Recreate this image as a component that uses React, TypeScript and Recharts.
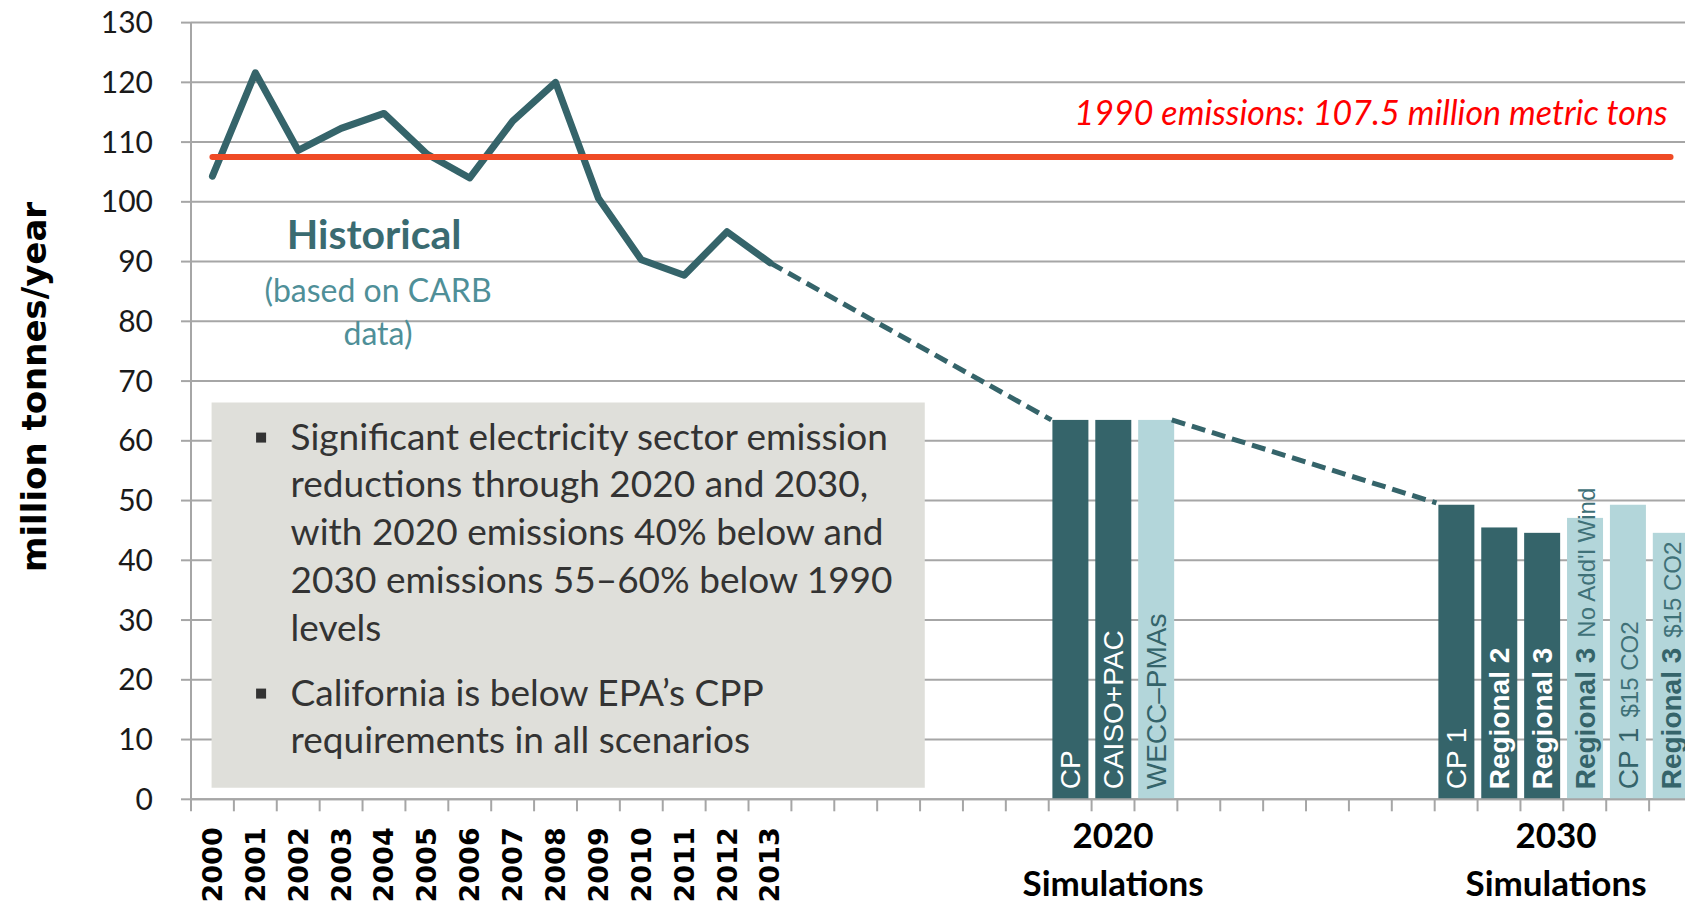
import React from "react";
import {
  ComposedChart,
  Bar,
  Line,
  XAxis,
  YAxis,
  CartesianGrid,
  ReferenceArea,
  ReferenceDot,
} from "recharts";

// historical emissions (CARB), million tonnes/year
const years = ["2000", "2001", "2002", "2003", "2004", "2005", "2006", "2007", "2008", "2009", "2010", "2011", "2012", "2013"];
const historical = [104.3, 121.6, 108.6, 112.3, 114.8, 108, 104, 113.5, 120, 100.6, 90.3, 87.7, 95, 89.8];

// simulated scenarios
const sim2020Names = ["CP", "CAISO+PAC", "WECC–PMAs"];
const sim2020Notes = ["", "", ""];
const sim2020Values = [63.5, 63.5, 63.5];
const sim2020Shades = ["dark", "dark", "light"];

const sim2030Names = ["CP 1", "Regional 2", "Regional 3", "Regional 3", "CP 1", "Regional 3"];
const sim2030Notes = ["", "", "", "No Add'l Wind", "$15 CO2", "$15 CO2"];
const sim2030Values = [49.3, 45.5, 44.6, 47.1, 49.3, 44.6];
const sim2030Shades = ["dark", "dark", "dark", "light", "light", "light"];

// slot layout of the category axis: 14 years, gap, 2020 group, gap, 2030 group
const slotCount = 35;
const sim2020Start = 20;
const sim2030Start = 29;

// group captions under the axis (x in slot units)
const groupLabels = [
  { x: 21.5, year: "2020" },
  { x: 31.83, year: "2030" },
];

// dashed trend (x in slot units)
const trendTo2020 = [
  { x: 13.5, v: 89.8 },
  { x: 20.06, v: 63.5 },
];
const trendTo2030 = [
  { x: 22.87, v: 63.5 },
  { x: 29.04, v: 49.6 },
];

const level1990 = 107.5;
const level1990Line = [
  { x: 0.5, v: level1990 },
  { x: 34.5, v: level1990 },
];

const yTicks = [0, 10, 20, 30, 40, 50, 60, 70, 80, 90, 100, 110, 120, 130];

const bulletPoints = [
  [
    "Significant electricity sector emission",
    "reductions through 2020 and 2030,",
    "with 2020 emissions 40% below and",
    "2030 emissions 55–60% below 1990",
    "levels",
  ],
  ["California is below EPA’s CPP", "requirements in all scenarios"],
];

const rows = Array.from({ length: slotCount }, (_, i) => {
  const row: any = { slot: i, hist: i < historical.length ? historical[i] : null, sim: null };
  const a = i - sim2020Start;
  const b = i - sim2030Start;
  if (a >= 0 && a < sim2020Values.length) {
    row.sim = sim2020Values[a];
    row.name = sim2020Names[a];
    row.note = sim2020Notes[a];
    row.shade = sim2020Shades[a];
  }
  if (b >= 0 && b < sim2030Values.length) {
    row.sim = sim2030Values[b];
    row.name = sim2030Names[b];
    row.note = sim2030Notes[b];
    row.shade = sim2030Shades[b];
  }
  return row;
});

const xTicks = Array.from(
  new Set([
    ...Array.from({ length: slotCount + 1 }, (_, i) => i),
    ...years.map((_, i) => i + 0.5),
    ...groupLabels.map((g) => g.x),
  ])
).sort((p, q) => p - q);

const DARK = "#35646a";
const LIGHT = "#b3d6da";
const GRID = "#a6a6a6";
const CALIBRI = "Lato, 'Open Sans', sans-serif";
const VERDANA = "'DejaVu Sans', Verdana, sans-serif";
const ARIAL = "'Liberation Sans', Arial, sans-serif";

function XTick(props: any) {
  const { x, y, payload } = props;
  const v = payload.value;
  const yearIdx = v - 0.5;
  const group = groupLabels.find((g) => g.x === v);
  return (
    <g>
      {Number.isInteger(v) && <line x1={x} x2={x} y1={y} y2={y + 12} stroke={GRID} strokeWidth={2} />}
      {Number.isInteger(yearIdx) && yearIdx >= 0 && yearIdx < years.length && (
        <text
          transform={`translate(${x},${y + 28}) rotate(-90)`}
          textAnchor="end"
          dominantBaseline="central"
          fontFamily={VERDANA}
          fontWeight="bold"
          fontSize={27}
          fill="#000"
        >
          {years[yearIdx]}
        </text>
      )}
      {group && (
        <g fontFamily={CALIBRI} fontWeight="bold" fontSize={35} fill="#000" textAnchor="middle">
          <text x={x} y={y + 49}>{group.year}</text>
          <text x={x} y={y + 97}>Simulations</text>
        </g>
      )}
    </g>
  );
}

function SimBar(props: any) {
  const { x, y, width, height, payload } = props;
  if (!payload || payload.sim == null) return null;
  const dark = payload.shade === "dark";
  const cx = x + width / 2;
  const bottom = y + height - 10;
  const bold = String(payload.name).startsWith("Regional");
  return (
    <g>
      <rect x={x} y={y} width={width} height={height} fill={dark ? DARK : LIGHT} />
      <text
        transform={`translate(${cx + 10},${bottom}) rotate(-90)`}
        fontFamily={ARIAL}
        fontSize={28}
        fill={dark ? "#ffffff" : DARK}
      >
        <tspan fontWeight={bold ? "bold" : "normal"}>{payload.name}</tspan>
        {payload.note ? (
          <tspan fontSize={24} dx={10} fill="#3f7178">
            {payload.note}
          </tspan>
        ) : null}
      </text>
    </g>
  );
}

function BoxText(props: any) {
  const vb = props.viewBox || { x: 212, y: 403 };
  const left = vb.x;
  let base = vb.y + 47;
  const out: React.ReactNode[] = [];
  bulletPoints.forEach((para, p) => {
    if (p > 0) base += 17;
    para.forEach((line, i) => {
      if (i === 0) {
        out.push(<rect key={`b${p}`} x={left + 44.5} y={base - 17} width={10} height={10} fill="#333" />);
      }
      out.push(
        <text key={`t${p}-${i}`} x={left + 79} y={base} fontFamily={CALIBRI} fontSize={37} fill="#333333">
          {line}
        </text>
      );
      base += 47.8;
    });
  });
  return <g>{out}</g>;
}

const renderYTitle = (props: any) => {
  const vb = props.viewBox || { x: 0, y: 22.6, width: 191, height: 776.7 };
  return (
    <text
      transform={`translate(${vb.x + 34},${vb.y + vb.height / 2 - 24}) rotate(-90)`}
      textAnchor="middle"
      dominantBaseline="central"
      fontFamily={VERDANA}
      fontWeight="bold"
      fontSize={34}
      fill="#000"
    >
      million tonnes/year
    </text>
  );
};

const note = (text: string, anchor: string, font: any) => (p: any) => (
  <text x={p.cx} y={p.cy} textAnchor={anchor} dominantBaseline="central" {...font}>
    {text}
  </text>
);

export default function App() {
  return (
    <div style={{ position: "absolute", left: 0, top: 0, width: 1685, height: 906, overflow: "hidden", background: "#fff" }}>
      <ComposedChart
        width={1692}
        height={906}
        data={rows}
        margin={{ top: 22.6, right: 0, bottom: 0, left: 0 }}
        barCategoryGap="8.6%"
      >
        <CartesianGrid xAxisId="n" vertical={false} stroke={GRID} strokeWidth={2} />
        <XAxis xAxisId="c" dataKey="slot" type="category" height={0} hide />
        <XAxis
          xAxisId="n"
          dataKey="x"
          type="number"
          domain={[0, slotCount]}
          allowDataOverflow
          ticks={xTicks}
          interval={0}
          height={106.7}
          tickLine={false}
          tickSize={0}
          tickMargin={0}
          axisLine={{ stroke: GRID, strokeWidth: 2 }}
          tick={<XTick />}
        />
        <YAxis
          domain={[0, 130]}
          ticks={yTicks}
          interval={0}
          allowDataOverflow
          width={191}
          tickSize={10}
          tickMargin={28}
          tickLine={{ stroke: GRID, strokeWidth: 2 }}
          axisLine={{ stroke: GRID, strokeWidth: 2 }}
          tick={{ fill: "#1a1a1a", fontSize: 30, fontFamily: CALIBRI }}
          label={renderYTitle}
        />
        <ReferenceArea
          xAxisId="n"
          x1={0.48}
          x2={17.11}
          y1={1.94}
          y2={66.4}
          fill="#dfdfda"
          fillOpacity={1}
          stroke="none"
          label={<BoxText />}
        />
        <Bar xAxisId="c" dataKey="sim" shape={<SimBar />} isAnimationActive={false} />
        <Line
          xAxisId="c"
          dataKey="hist"
          stroke={DARK}
          strokeWidth={7}
          strokeLinecap="round"
          strokeLinejoin="round"
          dot={false}
          activeDot={false}
          isAnimationActive={false}
        />
        <Line
          xAxisId="n"
          data={trendTo2020}
          dataKey="v"
          stroke={DARK}
          strokeWidth={5}
          strokeDasharray="14 7"
          dot={false}
          activeDot={false}
          isAnimationActive={false}
        />
        <Line
          xAxisId="n"
          data={trendTo2030}
          dataKey="v"
          stroke={DARK}
          strokeWidth={5}
          strokeDasharray="14 7"
          dot={false}
          activeDot={false}
          isAnimationActive={false}
        />
        <Line
          xAxisId="n"
          data={level1990Line}
          dataKey="v"
          stroke="#ef4b26"
          strokeWidth={6}
          strokeLinecap="round"
          dot={false}
          activeDot={false}
          isAnimationActive={false}
        />
        <ReferenceDot
          xAxisId="n"
          x={34.43}
          y={115.1}
          r={0}
          shape={note("1990 emissions: 107.5 million metric tons", "end", {
            fontFamily: CALIBRI,
            fontStyle: "italic",
            fontSize: 34,
            fill: "#ff0000",
          })}
        />
        <ReferenceDot
          xAxisId="n"
          x={4.27}
          y={94.7}
          r={0}
          shape={note("Historical", "middle", { fontFamily: CALIBRI, fontWeight: "bold", fontSize: 41, fill: "#3a6b71" })}
        />
        <ReferenceDot
          xAxisId="n"
          x={4.36}
          y={85.3}
          r={0}
          shape={note("(based on CARB", "middle", { fontFamily: CALIBRI, fontSize: 32, fill: "#4f8f98" })}
        />
        <ReferenceDot
          xAxisId="n"
          x={4.36}
          y={78.1}
          r={0}
          shape={note("data)", "middle", { fontFamily: CALIBRI, fontSize: 32, fill: "#4f8f98" })}
        />
      </ComposedChart>
    </div>
  );
}
